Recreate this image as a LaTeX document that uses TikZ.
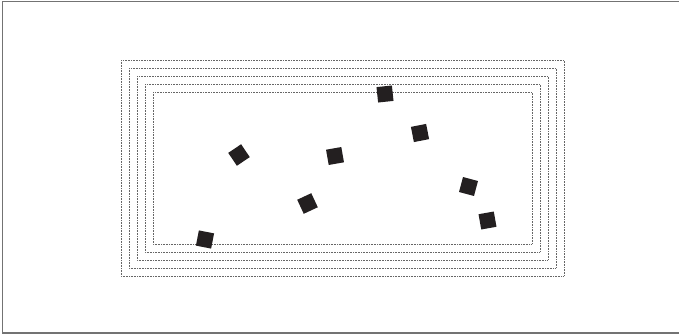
\documentclass[tikz,border=0pt]{standalone}
\usepackage{xcolor}
\usepackage{tikz}
\usetikzlibrary{positioning}

\definecolor{inkBlack}{HTML}{231F20}

\begin{document}
\begin{tikzpicture}[
  x=1pt, y=-1pt,
  frameLine/.style={draw=black!55, line width=1.6pt},
  ring/.style={draw=black!60, line width=0.8pt, dash pattern=on 0.8pt off 0.8pt},
  chip/.style={fill=inkBlack, minimum size=15.5pt, inner sep=0pt, outer sep=0pt},
]
\useasboundingbox (0,0) rectangle (679,335);
\clip (0,0) rectangle (679,335);
\draw[frameLine] (2.5,1.5) rectangle (700,333);

\draw[ring] (121,60) rectangle (564,276);
\draw[ring] (129,68) rectangle (556,268);
\draw[ring] (137,76) rectangle (548,260);
\draw[ring] (145,84) rectangle (540,252);
\draw[ring] (153,92) rectangle (532,244);

\node[chip, rotate=6]   (c1) at (385,94)  {};
\node[chip, rotate=11]  (c2) at (420,133) {};
\node[chip, rotate=34]  (c3) at (239,155) {};
\node[chip, rotate=10]  (c4) at (335,156) {};
\node[chip, rotate=-15] (c5) at (468.5,186.5) {};
\node[chip, rotate=25]  (c6) at (307.5,203.5) {};
\node[chip, rotate=10]  (c7) at (487.5,220.5) {};
\node[chip, rotate=-11] (c8) at (205,239.5) {};
\end{tikzpicture}
\end{document}
